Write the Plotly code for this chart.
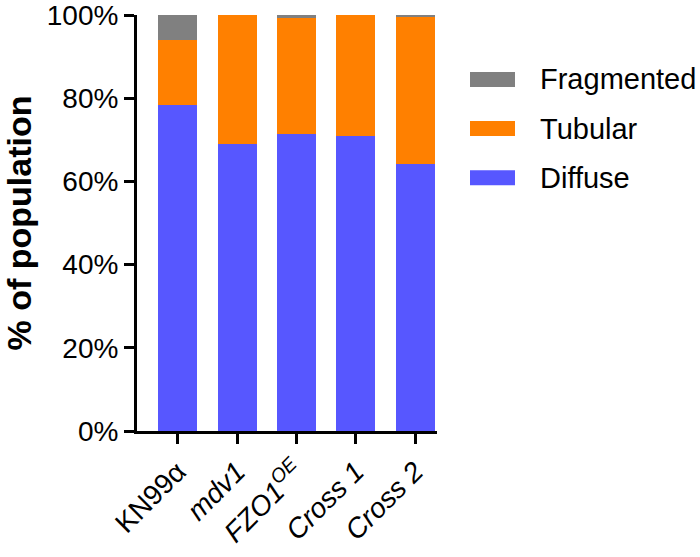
import plotly.graph_objects as go

categories = ["KN99α", "<i>mdv1</i>", "<i>FZO1</i><sup><i>OE</i></sup>", "<i>Cross 1</i>", "<i>Cross 2</i>"]
diffuse = [78.3, 69.0, 71.4, 70.9, 64.1]
tubular = [15.8, 31.0, 27.8, 29.1, 35.5]
fragmented = [5.9, 0.0, 0.8, 0.0, 0.4]
y_ticks = [0, 20, 40, 60, 80, 100]
y_tick_labels = ["0%", "20%", "40%", "60%", "80%", "100%"]

series = [("Diffuse", diffuse, "#5757FF"), ("Tubular", tubular, "#FF8000"), ("Fragmented", fragmented, "#808080")]

FONT = "Liberation Sans, Arial, sans-serif"
fig = go.Figure()
x_idx = list(range(len(categories)))
for name, vals, col in series:
    fig.add_trace(go.Bar(x=x_idx, y=vals, name=name, marker=dict(color=col, line=dict(width=0)),
                         width=0.66, showlegend=False))

# legend drawn manually (wide swatches)
legend_items = [("Fragmented", "#808080"), ("Tubular", "#FF8000"), ("Diffuse", "#5757FF")]
for i, (name, col) in enumerate(legend_items):
    yc = 0.845 - i * 0.118
    fig.add_shape(type="rect", xref="paper", yref="paper", x0=1.11, x1=1.26, y0=yc - 0.018, y1=yc + 0.018,
                  fillcolor=col, line=dict(width=0))
    fig.add_annotation(xref="paper", yref="paper", x=1.335, y=yc, text=name, showarrow=False,
                       xanchor="left", yanchor="middle", font=dict(size=29, color="black", family=FONT))

fig.update_layout(
    barmode="stack",
    width=700, height=557,
    margin=dict(l=137, r=263, t=15, b=126),
    plot_bgcolor="white", paper_bgcolor="white",
    font=dict(family=FONT, color="black", size=28),
    xaxis=dict(range=[-0.69, 4.37], tickmode="array", tickvals=x_idx, ticktext=categories,
               tickangle=-45, ticks="outside", ticklen=10, tickwidth=3, tickcolor="black",
               showline=True, linewidth=3, linecolor="black", showgrid=False, zeroline=False,
               tickfont=dict(size=28), automargin=False, ticklabeloverflow="allow"),
    yaxis=dict(range=[0, 100], tickmode="array", tickvals=y_ticks, ticktext=y_tick_labels,
               ticks="outside", ticklen=10, tickwidth=3, tickcolor="black",
               showline=True, linewidth=3, linecolor="black", showgrid=False, zeroline=False,
               tickfont=dict(size=28), automargin=False, ticklabeloverflow="allow",
               title=dict(text="<b>% of population</b>", font=dict(size=34), standoff=9)),
)
fig.write_html("out.html", config={"displayModeBar": False},
               post_script="document.body.style.margin='0';document.body.style.overflow='hidden';")
